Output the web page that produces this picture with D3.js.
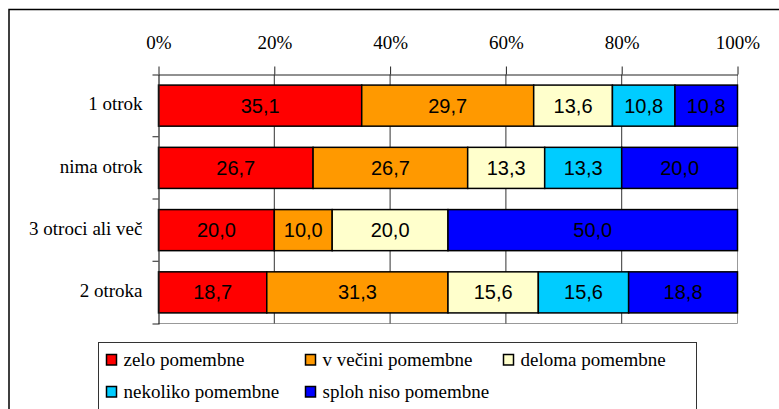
<!doctype html>
<html>
  <head>
    <meta charset="utf-8">
    <script src="https://cdnjs.cloudflare.com/ajax/libs/d3/7.8.5/d3.min.js"></script>
    <style>
      body { margin: 0; background: #fff; }
      .serif { font-family: "Liberation Serif", "Times New Roman", Times, serif !important; font-size: 19px !important; fill: #000; }
      .vals text { font-family: "Liberation Sans", Arial, sans-serif; font-size: 20px; fill: #000; }
      rect.seg { stroke: #000; stroke-width: 1.5; }
      line.grid { stroke: #333; stroke-width: 1; }
    </style>
  </head>
  <body>
    <svg width="779" height="409"></svg>
    <script>
      var categories = ["1 otrok", "nima otrok", "3 otroci ali več", "2 otroka"];
      var seriesNames = ["zelo pomembne", "v večini pomembne", "deloma pomembne", "nekoliko pomembne", "sploh niso pomembne"];
      var seriesColors = ["#ff0000", "#ff9900", "#ffffcc", "#00ccff", "#0000ff"];
      var zeloPomembne    = [35.1, 26.7, 20.0, 18.7];
      var vVeciniPomembne = [29.7, 26.7, 10.0, 31.3];
      var delomaPomembne  = [13.6, 13.3, 20.0, 15.6];
      var nekolikoPomembne = [10.8, 13.3, 0, 15.6];
      var splohNiso       = [10.8, 20.0, 50.0, 18.8];
      var xTicks = [0, 20, 40, 60, 80, 100];

      var seriesValues = [zeloPomembne, vVeciniPomembne, delomaPomembne, nekolikoPomembne, splohNiso];
      var rows = categories.map(function (c, i) {
        var r = { cat: c };
        seriesNames.forEach(function (s, j) { r[s] = seriesValues[j][i]; });
        return r;
      });
      var stacked = d3.stack().keys(seriesNames)(rows);

      var svg = d3.select("svg");

      // outer frame (runs off the picture at right and bottom)
      svg.append("rect")
        .attr("x", 9).attr("y", 9.5)
        .attr("width", 900).attr("height", 600)
        .attr("fill", "none").attr("stroke", "#000").attr("stroke-width", 1.5);

      var x = d3.scaleLinear().domain([0, 100]).range([158.5, 737.5]);
      var y = d3.scaleBand().domain(categories).range([74.5, 323.5])
        .paddingInner(0.34).paddingOuter(0.17);

      // plot border (right and bottom) and grid
      svg.append("path")
        .attr("d", "M" + x(100) + "," + y.range()[0] + "V" + y.range()[1] + "H" + x(0))
        .attr("fill", "none").attr("stroke", "#999").attr("stroke-width", 1);

      svg.selectAll("line.grid").data(xTicks.slice(1, -1)).enter()
        .append("line").attr("class", "grid")
        .attr("x1", d => x(d)).attr("x2", d => x(d))
        .attr("y1", y.range()[0]).attr("y2", y.range()[1]);

      // bars
      var layer = svg.append("g").selectAll("g").data(stacked).enter()
        .append("g").attr("fill", (d, i) => seriesColors[i]);
      layer.selectAll("rect").data(d => d.filter(p => p[1] - p[0] > 0)).enter()
        .append("rect").attr("class", "seg")
        .attr("x", d => x(d[0]))
        .attr("width", d => x(d[1]) - x(d[0]))
        .attr("y", d => y(d.data.cat))
        .attr("height", y.bandwidth());

      var fmt = v => d3.format(".1f")(v).replace(".", ",");
      var vals = svg.append("g").attr("class", "vals");
      stacked.forEach(function (s) {
        s.filter(p => p[1] - p[0] > 0).forEach(function (p) {
          vals.append("text")
            .attr("x", (x(p[0]) + x(p[1])) / 2)
            .attr("y", y(p.data.cat) + y.bandwidth() / 2 + 7)
            .attr("text-anchor", "middle")
            .text(fmt(p[1] - p[0]));
        });
      });

      // top axis
      var xAxis = svg.append("g")
        .attr("transform", "translate(0," + y.range()[0] + ")")
        .call(d3.axisTop(x).tickValues(xTicks).tickSize(8).tickSizeOuter(0)
          .tickPadding(18).tickFormat(d => d + "%"));
      xAxis.attr("font-family", "Liberation Serif").attr("font-size", 19);
      xAxis.selectAll("line").attr("stroke", "#222");
      xAxis.select(".domain").attr("stroke", "#222");
      xAxis.selectAll("text").attr("class", "serif");

      // left axis with category labels
      var yAxis = svg.append("g")
        .attr("transform", "translate(" + x(0) + ",0)")
        .call(d3.axisLeft(y).tickSize(0).tickSizeOuter(6).tickPadding(16));
      yAxis.attr("font-family", "Liberation Serif").attr("font-size", 19);
      yAxis.select(".domain").attr("stroke", "#222").attr("stroke-width", 1.2);
      yAxis.selectAll("text").attr("class", "serif").attr("dy", "0.25em");

      // boundary ticks between categories
      var step = y.step();
      svg.selectAll("line.btick").data(categories.slice(1)).enter()
        .append("line").attr("class", "btick")
        .attr("x1", x(0) - 6).attr("x2", x(0))
        .attr("y1", d => y(d) - step * y.paddingInner() / 2)
        .attr("y2", d => y(d) - step * y.paddingInner() / 2)
        .attr("stroke", "#222");

      // legend
      var legend = svg.append("g");
      legend.append("rect")
        .attr("x", 98.5).attr("y", 342.5).attr("width", 598).attr("height", 80)
        .attr("fill", "#fff").attr("stroke", "#333").attr("stroke-width", 1);
      var legendPos = [[106, 354], [305, 354], [503, 354], [106, 386], [305, 386]];
      var item = legend.selectAll("g.item").data(seriesNames).enter()
        .append("g").attr("class", "item")
        .attr("transform", (d, i) => "translate(" + legendPos[i][0] + "," + legendPos[i][1] + ")");
      item.append("rect")
        .attr("x", 0.5).attr("y", 0.5).attr("width", 10).attr("height", 10.5)
        .attr("fill", (d, i) => seriesColors[i])
        .attr("stroke", "#000").attr("stroke-width", 1.5);
      item.append("text")
        .attr("class", "serif")
        .attr("x", 17.5).attr("y", 12)
        .text(d => d);
    </script>
  </body>
</html>
